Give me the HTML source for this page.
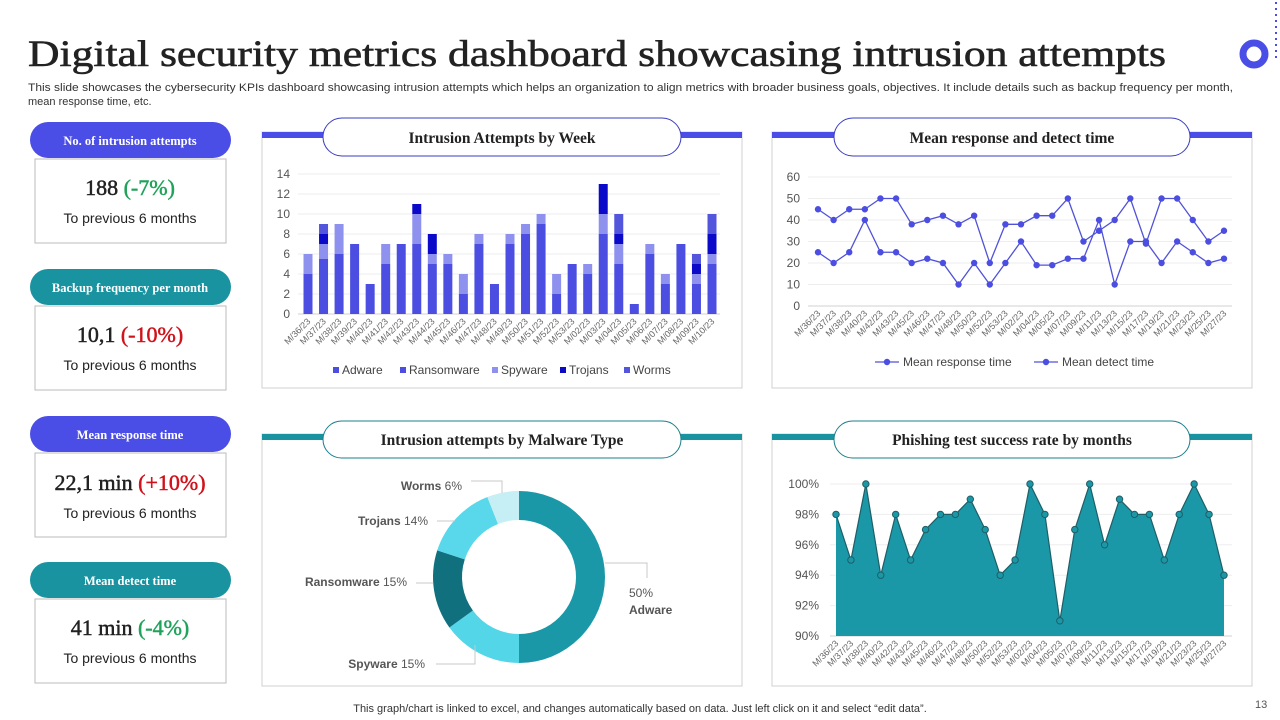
<!DOCTYPE html>
<html><head><meta charset="utf-8"><style>
html,body{margin:0;padding:0;background:#fff;}
svg{display:block;font-family:"Liberation Sans",sans-serif;}
.ser{font-family:"Liberation Serif",serif;}
.kv{stroke:currentColor;}
</style></head><body>
<svg id="root" width="1280" height="720" viewBox="0 0 1280 720">
<text class="ser" x="28" y="66" font-size="37" fill="#222" stroke="#222" stroke-width="0.6" textLength="1138" lengthAdjust="spacingAndGlyphs">Digital security metrics dashboard showcasing intrusion attempts</text>
<text x="28" y="91" font-size="11" fill="#333" textLength="1205" lengthAdjust="spacingAndGlyphs">This slide showcases the cybersecurity KPIs dashboard showcasing intrusion attempts which helps an organization to align metrics with broader business goals, objectives. It include details such as backup frequency per month,</text>
<text x="28" y="105" font-size="11" fill="#333">mean response time, etc.</text>
<g>
<circle cx="1254" cy="54" r="11" fill="none" stroke="#4a4de6" stroke-width="7"/>
<line x1="1276" y1="2" x2="1276" y2="62" stroke="#4a4de6" stroke-width="2" stroke-dasharray="2 4"/>
</g>

<g>
<rect x="30" y="122" width="201" height="36" rx="18" fill="#4a4de6"/>
<text class="ser" x="130" y="145" font-size="12.5" font-weight="bold" fill="#fff" text-anchor="middle">No. of intrusion attempts</text>
<rect x="35" y="159" width="191" height="84" fill="#fff" stroke="#bbb"/>
<text class="ser" x="130" y="195" font-size="22" text-anchor="middle" fill="#222" stroke="#222" stroke-width="0.5">188 <tspan fill="#1fa35a" stroke="#1fa35a">(-7%)</tspan></text>
<text x="130" y="223" font-size="14" text-anchor="middle" fill="#222">To previous 6 months</text>
</g>
<g>
<rect x="30" y="269" width="201" height="36" rx="18" fill="#1a93a0"/>
<text class="ser" x="130" y="292" font-size="12.5" font-weight="bold" fill="#fff" text-anchor="middle">Backup frequency per month</text>
<rect x="35" y="306" width="191" height="84" fill="#fff" stroke="#bbb"/>
<text class="ser" x="130" y="342" font-size="22" text-anchor="middle" fill="#222" stroke="#222" stroke-width="0.5">10,1 <tspan fill="#d0121b" stroke="#d0121b">(-10%)</tspan></text>
<text x="130" y="370" font-size="14" text-anchor="middle" fill="#222">To previous 6 months</text>
</g>
<g>
<rect x="30" y="416" width="201" height="36" rx="18" fill="#4a4de6"/>
<text class="ser" x="130" y="439" font-size="12.5" font-weight="bold" fill="#fff" text-anchor="middle">Mean response time</text>
<rect x="35" y="453" width="191" height="84" fill="#fff" stroke="#bbb"/>
<text class="ser" x="130" y="490" font-size="22" text-anchor="middle" fill="#222" stroke="#222" stroke-width="0.5">22,1 min <tspan fill="#d0121b" stroke="#d0121b">(+10%)</tspan></text>
<text x="130" y="518" font-size="14" text-anchor="middle" fill="#222">To previous 6 months</text>
</g>
<g>
<rect x="30" y="562" width="201" height="36" rx="18" fill="#1a93a0"/>
<text class="ser" x="130" y="585" font-size="12.5" font-weight="bold" fill="#fff" text-anchor="middle">Mean detect time</text>
<rect x="35" y="599" width="191" height="84" fill="#fff" stroke="#bbb"/>
<text class="ser" x="130" y="635" font-size="22" text-anchor="middle" fill="#222" stroke="#222" stroke-width="0.5">41 min <tspan fill="#1fa35a" stroke="#1fa35a">(-4%)</tspan></text>
<text x="130" y="663" font-size="14" text-anchor="middle" fill="#222">To previous 6 months</text>
</g>

<g>
<rect x="262" y="132" width="480" height="256" fill="#fff" stroke="#d0d0d0"/>
<rect x="262" y="132" width="480" height="6" fill="#4a4de6"/>
<rect x="323" y="118" width="358" height="38" rx="19" fill="#fff" stroke="#3a3dc0"/>
<text class="ser" x="502" y="143" font-size="15.5" font-weight="bold" fill="#222" text-anchor="middle">Intrusion Attempts by Week</text>
</g>
<g>
<rect x="772" y="132" width="480" height="256" fill="#fff" stroke="#d0d0d0"/>
<rect x="772" y="132" width="480" height="6" fill="#4a4de6"/>
<rect x="834" y="118" width="356" height="38" rx="19" fill="#fff" stroke="#3a3dc0"/>
<text class="ser" x="1012" y="143" font-size="15.5" font-weight="bold" fill="#222" text-anchor="middle">Mean response and detect time</text>
</g>
<g>
<rect x="262" y="434" width="480" height="252" fill="#fff" stroke="#d0d0d0"/>
<rect x="262" y="434" width="480" height="6" fill="#1a93a0"/>
<rect x="323" y="421" width="358" height="37" rx="18.5" fill="#fff" stroke="#1a7f8c"/>
<text class="ser" x="502" y="445" font-size="15.5" font-weight="bold" fill="#222" text-anchor="middle">Intrusion attempts by Malware Type</text>
</g>
<g>
<rect x="772" y="434" width="480" height="252" fill="#fff" stroke="#d0d0d0"/>
<rect x="772" y="434" width="480" height="6" fill="#1a93a0"/>
<rect x="834" y="421" width="356" height="37" rx="18.5" fill="#fff" stroke="#1a7f8c"/>
<text class="ser" x="1012" y="445" font-size="15.5" font-weight="bold" fill="#222" text-anchor="middle">Phishing test success rate by months</text>
</g>

<g id="barChart"></g>
<g id="lineChart"></g>
<g id="donutChart"></g>
<g id="areaChart"></g>

<text x="640" y="712" font-size="11" fill="#333" text-anchor="middle">This graph/chart is linked to excel, and changes automatically based on data. Just left click on it and select “edit data”.</text>
<text x="1255" y="708" font-size="11" fill="#555">13</text>
</svg>
<script>
const weekLabels = ["M/36/23","M/37/23","M/38/23","M/39/23","M/40/23","M/41/23","M/42/23","M/43/23","M/44/23","M/45/23","M/46/23","M/47/23","M/48/23","M/49/23","M/50/23","M/51/23","M/52/23","M/53/23","M/02/23","M/03/23","M/04/23","M/05/23","M/06/23","M/07/23","M/08/23","M/09/23","M/10/23"];
const adware =     [3,3.5,4,4,2,3,4,4,3,3,1,4,2,4,5,5,1,3,2,5,3,1,3,2,4,2,3];
const ransomware = [1,2,2,3,1,2,3,3,2,2,1,3,1,3,3,4,1,2,2,3,2,0,3,1,3,1,2];
const spyware =    [2,1.5,3,0,0,2,0,3,1,1,2,1,0,1,1,1,2,0,1,2,2,0,1,1,0,1,1];
const trojans =    [0,1,0,0,0,0,0,1,2,0,0,0,0,0,0,0,0,0,0,3,1,0,0,0,0,1,2];
const worms =      [0,1,0,0,0,0,0,0,0,0,0,0,0,0,0,0,0,0,0,0,2,0,0,0,0,1,2];
const barTicks = [0,2,4,6,8,10,12,14];
const dayLabels = ["M/36/23","M/37/23","M/38/23","M/40/23","M/42/23","M/43/23","M/45/23","M/46/23","M/47/23","M/48/23","M/50/23","M/52/23","M/53/23","M/02/23","M/04/23","M/05/23","M/07/23","M/09/23","M/11/23","M/13/23","M/15/23","M/17/23","M/19/23","M/21/23","M/23/23","M/25/23","M/27/23"];
const responseTime = [45,40,45,45,50,50,38,40,42,38,42,20,38,38,42,42,50,30,35,40,50,29,50,50,40,30,35];
const detectTime =   [25,20,25,40,25,25,20,22,20,10,20,10,20,30,19,19,22,22,40,10,30,30,20,30,25,20,22];
const lineTicks = [0,10,20,30,40,50,60];
const malwareTypes = ["Adware","Spyware","Ransomware","Trojans","Worms"];
const malwareShare = [50,15,15,14,6];
const phishRate = [98,95,100,94,98,95,97,98,98,99,97,94,95,100,98,91,97,100,96,99,98,98,95,98,100,98,94];
const areaTicks = [90,92,94,96,98,100];

const NS="http://www.w3.org/2000/svg";
function mk(parent,tag,attrs,text){const e=document.createElementNS(NS,tag);for(const k in attrs)e.setAttribute(k,attrs[k]);if(text!==undefined)e.textContent=text;parent.appendChild(e);return e;}

(function(){
  const g=document.getElementById('barChart');
  const x0=308,x1=712,yb=314,yt=174,vmax=14;
  const xs=i=>x0+(x1-x0)*i/(weekLabels.length-1);
  const ys=v=>yb-(yb-yt)*v/vmax;
  barTicks.forEach(t=>{
    const l=mk(g,'line',{x1:298,x2:720,y1:ys(t),y2:ys(t),stroke:t===0?'#d0d0d0':'#eeeeee'});
    
    
    const tx=mk(g,'text',{x:290,y:ys(t)+4,'font-size':12,fill:'#555','text-anchor':'end'},t);
    
    
  });
  const series=[adware,ransomware,spyware,trojans,worms];
  const colors=['#4b4ee0','#4b4ee0','#8f91ef','#0a0ac8','#5356dc'];
  const names=['adware','ransomware','spyware','trojans','worms'];
  weekLabels.forEach((lab,i)=>{
    let acc=0;
    series.forEach((s,k)=>{
      const v=s[i]; if(v<=0) return;
      const r=mk(g,'rect',{x:xs(i)-4.5,y:ys(acc+v),width:9,height:ys(acc)-ys(acc+v),fill:colors[k]});
      
      
      acc+=v;
    });
    const t=mk(g,'text',{x:xs(i)+3,y:322,'font-size':9,fill:'#666','text-anchor':'end',transform:`rotate(-45 ${xs(i)+3} 322)`},lab);
    
    
  });
  const leg=[['Adware','#4b4ee0',333],['Ransomware','#4b4ee0',400],['Spyware','#8f91ef',492],['Trojans','#0a0ac8',560],['Worms','#5356dc',624]];
  leg.forEach(d=>{
    const gg=mk(g,'g',{});
    
    
    mk(gg,'rect',{x:d[2],y:367,width:6,height:6,fill:d[1]});
    mk(gg,'text',{x:d[2]+9,y:374,'font-size':12,fill:'#444'},d[0]);
  });
})();

(function(){
  const g=document.getElementById('lineChart');
  const x0=818,x1=1224,yb=306,yt=177,vmax=60;
  const xs=i=>x0+(x1-x0)*i/(dayLabels.length-1);
  const ys=v=>yb-(yb-yt)*v/vmax;
  lineTicks.forEach(t=>{
    const l=mk(g,'line',{x1:808,x2:1232,y1:ys(t),y2:ys(t),stroke:t===0?'#d0d0d0':'#eeeeee'});
    
    
    const tx=mk(g,'text',{x:800,y:ys(t)+4,'font-size':12,fill:'#555','text-anchor':'end'},t);
    
    
  });
  [[responseTime,'response'],[detectTime,'detect']].forEach(([s,n])=>{
    const p=mk(g,'polyline',{points:s.map((v,i)=>xs(i)+','+ys(v)).join(' '),fill:'none',stroke:'#5052d8','stroke-width':1.3});
    
    
    s.forEach((v,i)=>{
      const c=mk(g,'circle',{cx:xs(i),cy:ys(v),r:3.2,fill:'#4b4ee0'});
      
      
    });
  });
  dayLabels.forEach((lab,i)=>{
    const t=mk(g,'text',{x:xs(i)+3,y:314,'font-size':9,fill:'#666','text-anchor':'end',transform:`rotate(-45 ${xs(i)+3} 314)`},lab);
    
    
  });
  [['Mean response time',875],['Mean detect time',1034]].forEach(d=>{
    const gg=mk(g,'g',{});
    
    
    mk(gg,'line',{x1:d[1],x2:d[1]+24,y1:362,y2:362,stroke:'#5052d8','stroke-width':1.3});
    mk(gg,'circle',{cx:d[1]+12,cy:362,r:3.2,fill:'#4b4ee0'});
    mk(gg,'text',{x:d[1]+28,y:366,'font-size':12,fill:'#444'},d[0]);
  });
})();

(function(){
  const g=document.getElementById('donutChart');
  const cx=519,cy=577,R=86,r=57;
  const colors=['#1a98a8','#52d6e8','#11707e','#58d8ea','#c5eff5'];
  const total=malwareShare.reduce((a,b)=>a+b,0);
  let a0=-Math.PI/2;
  const pt=(rad,a)=>[cx+rad*Math.cos(a),cy+rad*Math.sin(a)];
  malwareShare.forEach((v,k)=>{
    const a1=a0+2*Math.PI*v/total;
    const large=(a1-a0)>Math.PI?1:0;
    const [x1,y1]=pt(R,a0),[x2,y2]=pt(R,a1),[x3,y3]=pt(r,a1),[x4,y4]=pt(r,a0);
    const p=mk(g,'path',{d:`M${x1},${y1} A${R},${R} 0 ${large} 1 ${x2},${y2} L${x3},${y3} A${r},${r} 0 ${large} 0 ${x4},${y4}Z`,fill:colors[k]});
    
    
    a0=a1;
  });
  const lbl=[
    {t:'Adware',x:629,y:597,anchor:'start',line:'M605,563 L647,563 L647,578'},
    {t:'Spyware',x:425,y:668,anchor:'end',line:'M475,645 L475,664 L436,664'},
    {t:'Ransomware',x:407,y:586,anchor:'end',line:'M433,583 L416,583'},
    {t:'Trojans',x:428,y:525,anchor:'end',line:'M455,521 L437,521'},
    {t:'Worms',x:462,y:490,anchor:'end',line:'M502,493 L502,481 L471,481'}
  ];
  lbl.forEach((d,k)=>{
    const gg=mk(g,'g',{});
    
    
    mk(gg,'path',{d:d.line,fill:'none',stroke:'#c8c8c8'});
    if(k===0){
      mk(gg,'text',{x:d.x,y:d.y,'font-size':12,fill:'#555'},malwareShare[k]+'%');
      mk(gg,'text',{x:d.x,y:d.y+17,'font-size':12,fill:'#555','font-weight':'bold'},d.t);
    } else {
      const tx=mk(gg,'text',{x:d.x,y:d.y,'font-size':12,fill:'#555','text-anchor':d.anchor});
      mk(tx,'tspan',{'font-weight':'bold'},d.t);
      mk(tx,'tspan',{},'  '+malwareShare[k]+'%');
    }
  });
})();

(function(){
  const g=document.getElementById('areaChart');
  const x0=836,x1=1224,yb=636,yt=484,vmin=90,vmax=100;
  const xs=i=>x0+(x1-x0)*i/(phishRate.length-1);
  const ys=v=>yb-(yb-yt)*(v-vmin)/(vmax-vmin);
  areaTicks.forEach(t=>{
    const l=mk(g,'line',{x1:830,x2:1232,y1:ys(t),y2:ys(t),stroke:t===90?'#d0d0d0':'#eeeeee'});
    
    
    const tx=mk(g,'text',{x:819,y:ys(t)+4,'font-size':12,fill:'#555','text-anchor':'end'},t+'%');
    
    
  });
  const pts=phishRate.map((v,i)=>xs(i)+','+ys(v));
  const a=mk(g,'polygon',{points:xs(0)+','+yb+' '+pts.join(' ')+' '+xs(phishRate.length-1)+','+yb,fill:'#1a98a8'});
  
  
  const l=mk(g,'polyline',{points:pts.join(' '),fill:'none',stroke:'#1f5e66','stroke-width':1.2});
  
  
  phishRate.forEach((v,i)=>{
    const c=mk(g,'circle',{cx:xs(i),cy:ys(v),r:3.2,fill:'#1a98a8',stroke:'#1f5e66','stroke-width':1});
    
    
  });
  dayLabels.forEach((lab,i)=>{
    const t=mk(g,'text',{x:xs(i)+3,y:644,'font-size':9,fill:'#666','text-anchor':'end',transform:`rotate(-45 ${xs(i)+3} 644)`},lab);
    
    
  });
})();
</script>
</body></html>
